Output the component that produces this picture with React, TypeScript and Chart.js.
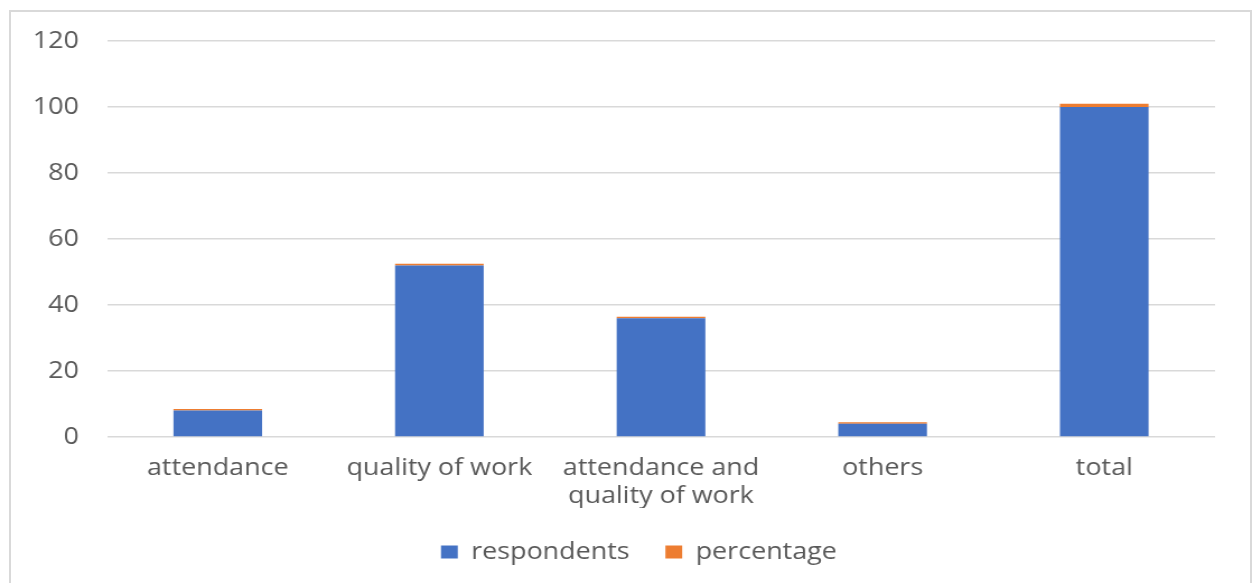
import React, { useEffect, useRef } from "react";
import { Chart, registerables } from "chart.js";

Chart.register(...registerables);

const categories: (string | string[])[] = [
  "attendance",
  "quality of work",
  ["attendance and", "quality of work"],
  "others",
  "total",
];
const respondents = [8, 52, 36, 4, 100];
const percentage = [0.08, 0.52, 0.36, 0.04, 1];
const yTicks = { min: 0, max: 120, step: 20 };

const W = 1118;
const H = 583;
const SX = 1252 / W;

const legendShift = {
  id: "legendShift",
  afterLayout(chart: any) {
    const lg = chart.legend;
    if (lg) {
      lg.left += 28;
      lg.right += 28;
    }
  },
};

export default function App() {
  const ref = useRef<HTMLCanvasElement | null>(null);
  useEffect(() => {
    if (!ref.current) return;
    Chart.defaults.font.family = "'Open Sans', sans-serif";
    const chart = new Chart(ref.current, {
      type: "bar",
      data: {
        labels: categories,
        datasets: [
          {
            label: "respondents",
            data: respondents,
            backgroundColor: "#4472C4",
            borderWidth: 0,
          },
          {
            label: "percentage",
            data: percentage,
            backgroundColor: "#ED7D31",
            borderWidth: 0,
            minBarLength: 1.5,
          },
        ],
      },
      plugins: [legendShift],
      options: {
        animation: false,
        responsive: false,
        maintainAspectRatio: false,
        devicePixelRatio: 1,
        layout: { padding: { top: 41, left: 0, right: 33, bottom: 9 } },
        datasets: { bar: { categoryPercentage: 1, barPercentage: 0.4 } },
        scales: {
          x: {
            stacked: true,
            grid: { display: false, drawTicks: false },
            border: { display: false },
            ticks: {
              color: "#595959",
              font: { size: 24, lineHeight: 1.1667 },
              padding: 17,
              maxRotation: 0,
              autoSkip: false,
            },
            afterFit: (s: any) => {
              s.height = 71;
            },
          },
          y: {
            stacked: true,
            min: yTicks.min,
            max: yTicks.max,
            grid: { color: "#d9d9d9", lineWidth: 1.5, drawTicks: false },
            border: { display: false },
            ticks: {
              stepSize: yTicks.step,
              color: "#595959",
              font: { size: 24 },
              padding: 25,
            },
            afterFit: (s: any) => {
              s.width = 95.5;
            },
          },
        },
        plugins: {
          legend: {
            position: "bottom",
            maxHeight: 70,
            labels: {
              boxWidth: 15,
              boxHeight: 13,
              padding: 32,
              color: "#595959",
              font: { size: 24 },
            },
          },
          tooltip: { enabled: false },
        },
      } as any,
    });
    return () => chart.destroy();
  }, []);

  return (
    <div style={{ position: "fixed", left: 0, top: 0, width: 1252, height: 583, background: "#fff", overflow: "hidden" }}>
      <div
        style={{
          position: "absolute",
          left: 9,
          top: 10,
          width: 1243,
          height: 600,
          border: "2px solid #d9d9d9",
          boxSizing: "border-box",
        }}
      />
      <div
        style={{
          position: "absolute",
          left: 0,
          top: 0,
          width: W,
          height: H,
          transform: `scaleX(${SX})`,
          transformOrigin: "0 0",
        }}
      >
        <canvas ref={ref} width={W} height={H} style={{ width: W, height: H, display: "block" }} />
      </div>
    </div>
  );
}
